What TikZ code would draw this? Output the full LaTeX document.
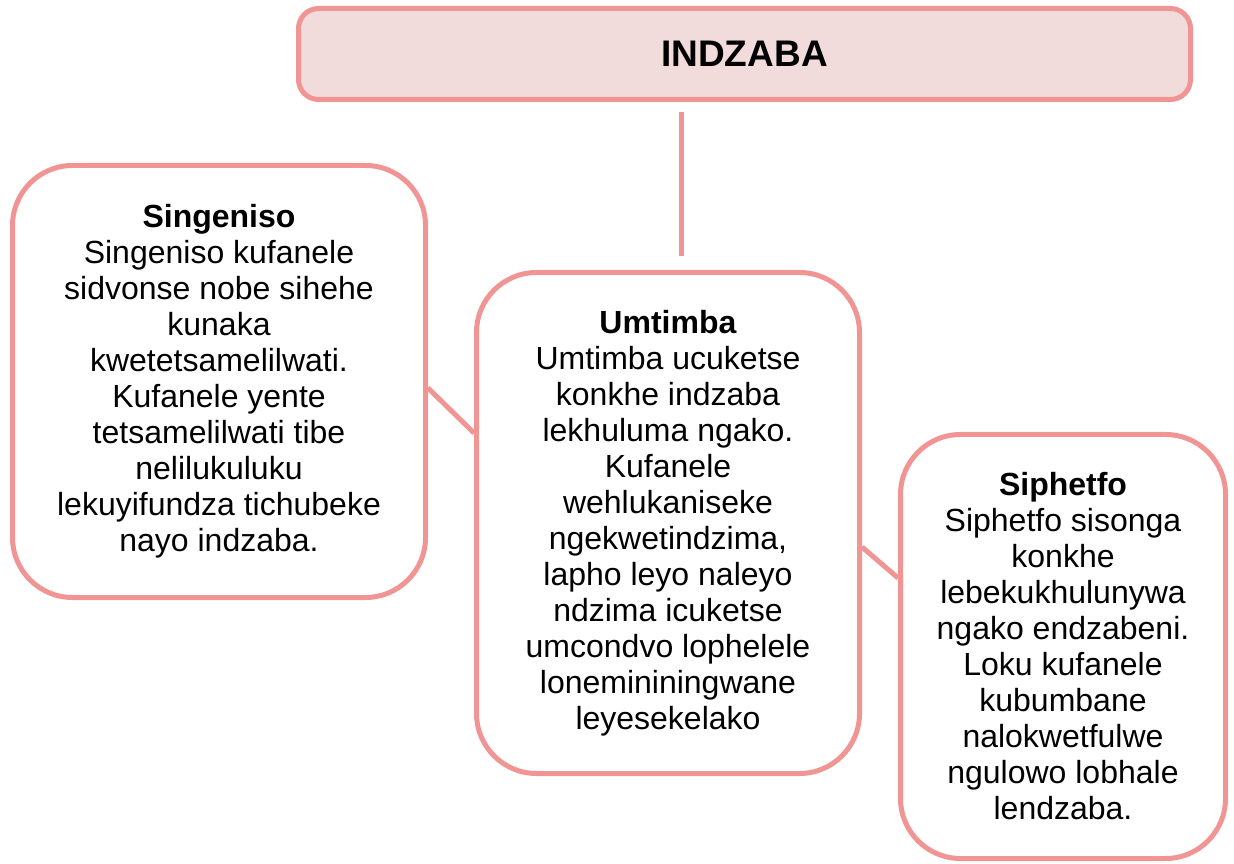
\documentclass[tikz,border=0pt]{standalone}
\usepackage{fontspec}
\setmainfont{Liberation Sans}
\usetikzlibrary{calc}
\definecolor{boxline}{RGB}{241,148,148}
\definecolor{boxfill}{RGB}{242,220,219}
\tikzset{
  box/.style={draw=boxline,line width=5pt,rounded corners=60pt,align=center,
    font=\fontsize{32}{36}\selectfont,inner sep=0pt},
  link/.style={draw=boxline,line width=5pt},
}
\begin{document}
\begin{tikzpicture}[x=1pt,y=1pt]
\useasboundingbox (0,0) rectangle (1234,863);
%boxes
\node[box,fill=boxfill,rounded corners=20pt,minimum width=892pt,minimum height=91pt,
  font=\fontsize{37}{40}\selectfont\bfseries] (story) at (744.5,809) {INDZABA};
\node[box,minimum width=413pt,minimum height=432pt] (intro) at (219,481.5)
  {\textbf{Singeniso}\\Singeniso kufanele\\sidvonse nobe sihehe\\kunaka\\kwetetsamelilwati.\\Kufanele yente\\tetsamelilwati tibe\\nelilukuluku\\lekuyifundza tichubeke\\nayo indzaba.};
\node[box,minimum width=383pt,minimum height=501pt] (body) at (668,340)
  {\textbf{Umtimba}\\Umtimba ucuketse\\konkhe indzaba\\lekhuluma ngako.\\Kufanele\\wehlukaniseke\\ngekwetindzima,\\lapho leyo naleyo\\ndzima icuketse\\umcondvo lophelele\\lonemininingwane\\leyesekelako};
\node[box,minimum width=325pt,minimum height=424pt] (ending) at (1063,216.5)
  {\textbf{Siphetfo}\\Siphetfo sisonga\\konkhe\\lebekukhulunywa\\ngako endzabeni.\\Loku kufanele\\kubumbane\\nalokwetfulwe\\ngulowo lobhale\\lendzaba.};
%lines
\coordinate (stem) at (681,0);
\draw[link,shorten <=10pt,shorten >=14pt](story.south -| stem)--(body.north -| stem);
\draw[link]($(intro.east)+(0,-6.5)$)--($(body.west)+(0,90)$);
\draw[link]($(body.east)+(0,-24)$)--($(ending.west)+(0,68.5)$);
\end{tikzpicture}
\end{document}
